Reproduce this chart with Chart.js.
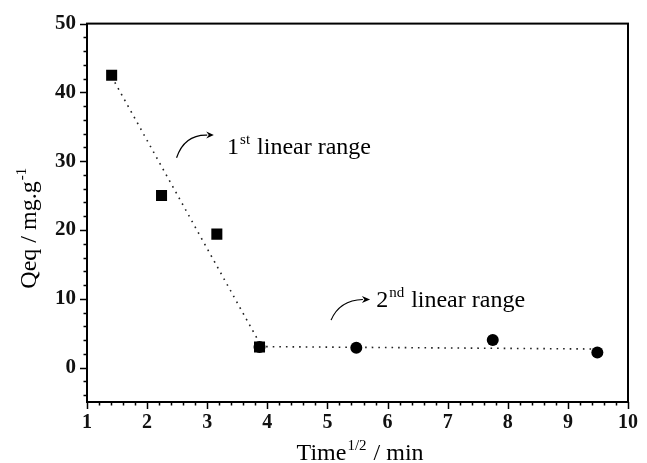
<!DOCTYPE html>
<html>
<head>
<meta charset="utf-8">
<script src="https://cdn.jsdelivr.net/npm/chart.js@4/dist/chart.umd.min.js"></script>
<style>
  html, body { margin: 0; padding: 0; background: #fff; }
  #wrap { width: 647px; height: 463px; }
</style>
</head>
<body>
<div id="wrap"><canvas id="kinetics"></canvas></div>
<script>
// measured points (x = time^1/2)
const squareX = [1.41, 2.24, 3.16, 3.87];
const squareY = [42.5, 25.0, 19.4, 3.0];
const circleX = [3.87, 5.48, 7.75, 9.49];
const circleY = [3.0, 2.9, 4.0, 2.2];

// dotted fit lines
const fit1X = [1.41, 3.87];
const fit1Y = [42.3, 3.6];
const fit2X = [3.87, 9.49];
const fit2Y = [3.05, 2.7];

const xTicks = [1, 2, 3, 4, 5, 6, 7, 8, 9, 10];
const yTicks = [0, 10, 20, 30, 40, 50];

const SERIF = '"Liberation Serif", "Times New Roman", serif';

const pts = (xs, ys) => xs.map((x, i) => ({ x: x, y: ys[i] }));

// draw "base^sup rest" starting at x, baseline y
function supText(ctx, x, y, base, sup, rest, size) {
    ctx.font = size + 'px ' + SERIF;
    ctx.fillText(base, x, y);
    x += ctx.measureText(base).width;
    const s = Math.round(size * 0.62);
    ctx.font = s + 'px ' + SERIF;
    ctx.fillText(sup, x + 1, y - size * 0.42);
    x += ctx.measureText(sup).width + 2;
    ctx.font = size + 'px ' + SERIF;
    ctx.fillText(rest, x, y);
    return x + ctx.measureText(rest).width;
}

function curvedArrow(ctx, xs, ys, p0, c, p1, tip) {
    const P = p => [xs.getPixelForValue(p[0]), ys.getPixelForValue(p[1])];
    const a = P(p0), b = P(c), e = P(p1), t = P(tip);
    ctx.beginPath();
    ctx.moveTo(a[0], a[1]);
    ctx.quadraticCurveTo(b[0], b[1], e[0], e[1]);
    ctx.lineWidth = 1.2;
    ctx.stroke();
    ctx.beginPath();
    ctx.moveTo(t[0], t[1]);
    ctx.lineTo(e[0] - 1, e[1] - 3.5);
    ctx.lineTo(e[0] + 1.5, e[1]);
    ctx.lineTo(e[0] - 1, e[1] + 3.5);
    ctx.closePath();
    ctx.fill();
}

const notes = [
    { at: [3.33, 31.0], base: '1', sup: 'st', rest: ' linear range',
      arrow: [[2.49, 30.5], [2.62, 33.9], [3.0, 33.8], [3.11, 33.8]] },
    { at: [5.81, 8.75], base: '2', sup: 'nd', rest: ' linear range',
      arrow: [[5.06, 6.9], [5.2, 9.8], [5.59, 9.9], [5.71, 9.9]] }
];

const framePlugin = {
    id: 'frame',
    afterDraw(chart) {
        const ctx = chart.ctx;
        const a = chart.chartArea;
        const xs = chart.scales.x, ys = chart.scales.y;
        ctx.save();
        ctx.strokeStyle = '#000';
        ctx.fillStyle = '#000';

        // box
        ctx.lineWidth = 2;
        ctx.strokeRect(a.left, a.top, a.right - a.left, a.bottom - a.top);

        // outward ticks, major and minor
        ctx.lineWidth = 1.5;
        ctx.beginPath();
        for (let v = 1; v <= 10.001; v += 0.2) {
            const major = Math.abs(v - Math.round(v)) < 0.01;
            const px = Math.round(xs.getPixelForValue(v)) + 0.5;
            ctx.moveTo(px, a.bottom);
            ctx.lineTo(px, a.bottom + (major ? 7 : 3.5));
        }
        for (let v = -4; v <= 50.001; v += 2) {
            const major = v % 10 === 0;
            const py = Math.round(ys.getPixelForValue(v)) + 0.5;
            ctx.moveTo(a.left, py);
            ctx.lineTo(a.left - (major ? 7 : 3.5), py);
        }
        ctx.stroke();

        // axis titles
        ctx.textBaseline = 'alphabetic';
        ctx.textAlign = 'left';
        ctx.font = '24px ' + SERIF;
        const tw = ctx.measureText('Time / min').width + 16;
        supText(ctx, (a.left + a.right) / 2 - tw / 2, 460, 'Time', '1/2', ' / min', 24);

        ctx.save();
        ctx.translate(36, 229);
        ctx.rotate(-Math.PI / 2);
        ctx.font = '24px ' + SERIF;
        const yw = ctx.measureText('Qeq / mg.g').width + 12;
        supText(ctx, -yw / 2, 0, 'Qeq / mg.g', '-1', '', 24);
        ctx.restore();

        // annotations
        notes.forEach(n => {
            supText(ctx, xs.getPixelForValue(n.at[0]), ys.getPixelForValue(n.at[1]),
                    n.base, n.sup, n.rest, 24);
            curvedArrow(ctx, xs, ys, ...n.arrow);
        });
        ctx.restore();
    }
};

new Chart(document.getElementById('kinetics'), {
    type: 'scatter',
    data: {
        datasets: [
            { data: pts(fit1X, fit1Y), showLine: true, borderColor: '#222', borderWidth: 1.6,
              borderDash: [1.6, 5], pointRadius: 0, order: 3 },
            { data: pts(fit2X, fit2Y), showLine: true, borderColor: '#222', borderWidth: 1.6,
              borderDash: [1.6, 5], pointRadius: 0, order: 3 },
            { data: pts(circleX, circleY), pointStyle: 'circle', pointRadius: 6,
              backgroundColor: '#000', borderColor: '#000', borderWidth: 0, order: 2 },
            { data: pts(squareX, squareY), pointStyle: 'rect', pointRadius: 7.8,
              backgroundColor: '#000', borderColor: '#000', borderWidth: 0, order: 1 }
        ]
    },
    options: {
        responsive: true,
        maintainAspectRatio: false,
        animation: false,
        layout: { padding: { top: 22, right: 15, left: 0, bottom: 0 } },
        plugins: { legend: { display: false }, tooltip: { enabled: false } },
        scales: {
            x: {
                type: 'linear', min: 1, max: 10,
                afterFit: s => { s.height = 61; },
                afterBuildTicks: s => { s.ticks = xTicks.map(v => ({ value: v })); },
                grid: { display: false, drawTicks: false },
                border: { display: false },
                ticks: { padding: 9, color: '#111',
                         font: { family: SERIF, size: 20, weight: 'bold' } }
            },
            y: {
                type: 'linear', min: -5, max: 50,
                afterFit: s => { s.width = 87; },
                afterBuildTicks: s => { s.ticks = yTicks.map(v => ({ value: v })); },
                grid: { display: false, drawTicks: false },
                border: { display: false },
                ticks: { padding: 11, color: '#111',
                         font: { family: SERIF, size: 21, weight: 'bold' } }
            }
        }
    },
    plugins: [framePlugin]
});
</script>
</body>
</html>
